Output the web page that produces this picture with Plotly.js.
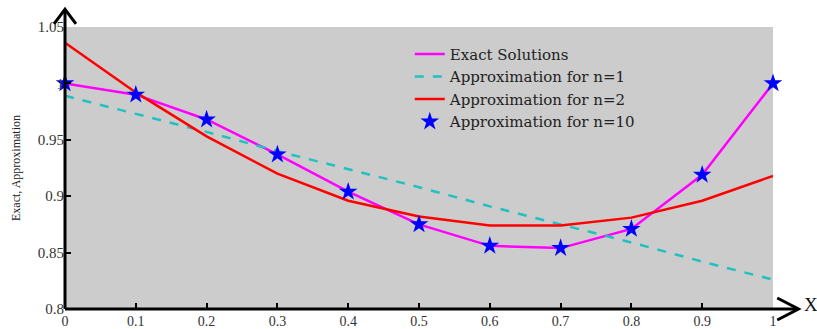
<!DOCTYPE html>
<html>
<head>
<meta charset="utf-8">
<script src="https://cdn.plot.ly/plotly-3.0.1.min.js"></script>
<style>html,body{margin:0;padding:0;background:#fff;}#chart{width:817px;height:329px;}</style>
</head>
<body>
<div id="chart"></div>
<script>
const xValues = [0, 0.1, 0.2, 0.3, 0.4, 0.5, 0.6, 0.7, 0.8, 0.9, 1.0];
const exactValues = [1.0, 0.990, 0.968, 0.937, 0.904, 0.875, 0.856, 0.854, 0.871, 0.919, 1.0];
const approxN1 = [0.989, 0.973, 0.957, 0.940, 0.924, 0.908, 0.891, 0.875, 0.859, 0.842, 0.826];
const approxN2 = [1.036, 0.992, 0.953, 0.920, 0.896, 0.882, 0.874, 0.874, 0.881, 0.896, 0.918];
const approxN10 = [1.0, 0.990, 0.968, 0.937, 0.904, 0.875, 0.856, 0.854, 0.871, 0.919, 1.0];
const xTickVals = [0, 0.1, 0.2, 0.3, 0.4, 0.5, 0.6, 0.7, 0.8, 0.9, 1];
const xTickText = ["0", "0.1", "0.2", "0.3", "0.4", "0.5", "0.6", "0.7", "0.8", "0.9", "1"];
const yTickVals = [0.8, 0.85, 0.9, 0.95, 1.0, 1.05];
const yTickText = ["0.8", "0.85", "0.9", "0.95", "1", "1.05"];

const serif = "Liberation Serif, Times New Roman, serif";
const legendFont = "DejaVu Serif, serif";

const traces = [
  {x: xValues, y: exactValues, name: "Exact Solutions", mode: "lines",
   line: {color: "#ff00ff", width: 2.5}, cliponaxis: false},
  {x: xValues, y: approxN1, name: "Approximation for n=1", mode: "lines",
   line: {color: "#22c0c0", width: 2.5, dash: "dash"}, cliponaxis: false},
  {x: xValues, y: approxN2, name: "Approximation for n=2", mode: "lines",
   line: {color: "#ff0000", width: 2.5}, cliponaxis: false},
  {x: xValues, y: approxN10, name: "Approximation for n=10", mode: "markers",
   marker: {color: "#0000ff", symbol: "star", size: 14, line: {width: 0}}, cliponaxis: false}
];

const layout = {
  width: 817, height: 329,
  margin: {l: 65, r: 44, t: 27, b: 20, pad: 0},
  paper_bgcolor: "#ffffff",
  plot_bgcolor: "#cccccc",
  font: {family: serif, size: 14, color: "#333333"},
  showlegend: true,
  legend: {x: 0.487, y: 0.962, xanchor: "left", yanchor: "top",
           bgcolor: "rgba(0,0,0,0)", font: {family: legendFont, size: 15, color: "#222222"},
           tracegroupgap: 0},
  xaxis: {range: [0, 1], tickvals: xTickVals, ticktext: xTickText, ticks: "inside",
          ticklen: 6, tickwidth: 2, tickcolor: "#000", showgrid: false, zeroline: false,
          showline: false, tickfont: {family: serif, size: 14, color: "#333333"}, ticklabelstandoff: 2},
  yaxis: {range: [0.8, 1.05], tickvals: yTickVals, ticktext: yTickText, ticks: "inside",
          ticklen: 6, tickwidth: 2, tickcolor: "#000", showgrid: false, zeroline: false,
          showline: false, tickfont: {family: serif, size: 15, color: "#333333"},
          title: {text: "Exact, Approximation", font: {family: serif, size: 12, color: "#222222"}, standoff: 14}},
  shapes: [
    {type: "line", xref: "paper", yref: "paper", x0: 0, x1: 0, y0: 0, y1: 1.06,
     line: {color: "#000", width: 3}, layer: "above"},
    {type: "line", xref: "paper", yref: "paper", x0: 0, x1: 1.034, y0: 0, y1: 0,
     line: {color: "#000", width: 3}, layer: "above"},
    {type: "path", xref: "paper", yref: "paper",
     path: "M -0.0155 1.011 L 0 1.063 L 0.0155 1.011",
     line: {color: "#000", width: 3}, layer: "above"},
    {type: "path", xref: "paper", yref: "paper",
     path: "M 1.006 0.039 L 1.036 0 L 1.006 -0.039",
     line: {color: "#000", width: 3}, layer: "above"}
  ],
  annotations: [
    {text: "X", xref: "paper", yref: "paper", x: 1.041, y: 0.015, xanchor: "left", yanchor: "middle",
     showarrow: false, font: {family: serif, size: 19, color: "#111"}}
  ]
};

Plotly.newPlot("chart", traces, layout, {displayModeBar: false, staticPlot: true});
</script>
</body>
</html>
